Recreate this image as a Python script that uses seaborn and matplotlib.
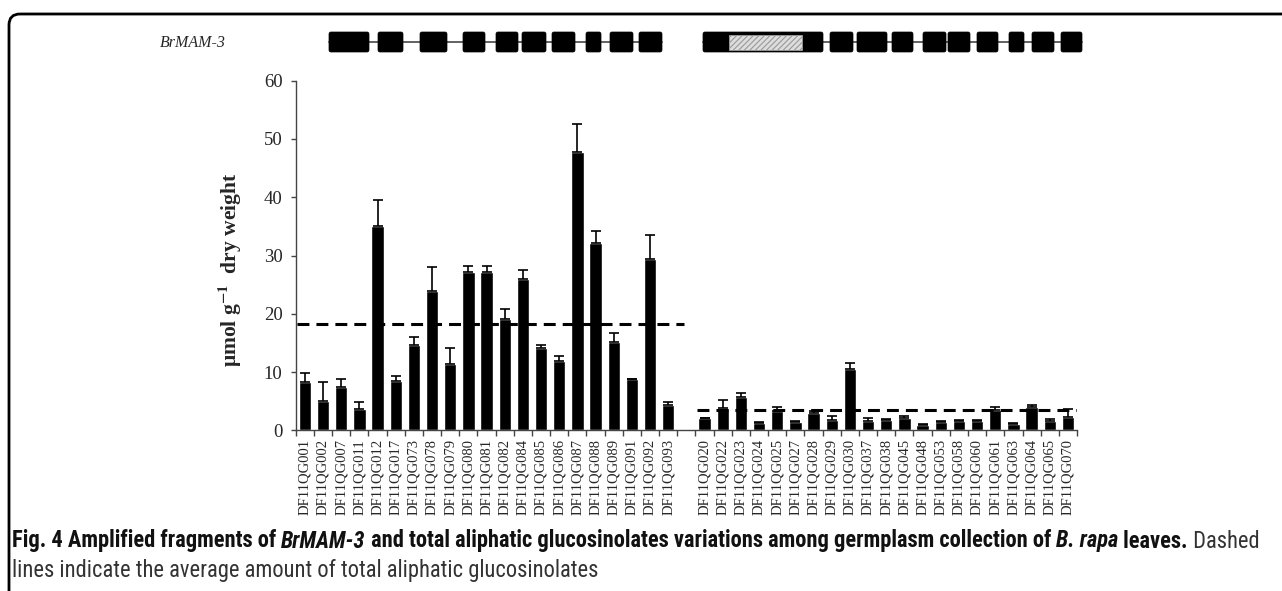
import matplotlib
matplotlib.use("Agg")

import numpy as np
import pandas as pd
import matplotlib.pyplot as plt
import seaborn as sns
from matplotlib import font_manager as fm
from matplotlib.patches import FancyBboxPatch, Rectangle

# ------------------------------------------------------------------
# Data
# ------------------------------------------------------------------

group_a = ["DF11QG001", "DF11QG002", "DF11QG007", "DF11QG011", "DF11QG012",
           "DF11QG017", "DF11QG073", "DF11QG078", "DF11QG079", "DF11QG080",
           "DF11QG081", "DF11QG082", "DF11QG084", "DF11QG085", "DF11QG086",
           "DF11QG087", "DF11QG088", "DF11QG089", "DF11QG091", "DF11QG092",
           "DF11QG093"]
values_a = [8.3, 5.0, 7.45, 3.7, 35.1, 8.5, 14.7, 24.0, 11.4, 27.1, 27.1,
            19.2, 25.9, 14.2, 12.0, 47.8, 32.1, 15.2, 8.9, 29.4, 4.35]
errors_a = [1.5, 3.3, 1.4, 1.2, 4.4, 0.9, 1.4, 4.1, 2.8, 1.1, 1.1,
            1.7, 1.7, 0.5, 0.8, 4.7, 2.1, 1.6, 0.0, 4.1, 0.6]

group_b = ["DF11QG020", "DF11QG022", "DF11QG023", "DF11QG024", "DF11QG025",
           "DF11QG027", "DF11QG028", "DF11QG029", "DF11QG030", "DF11QG037",
           "DF11QG038", "DF11QG045", "DF11QG048", "DF11QG053", "DF11QG058",
           "DF11QG060", "DF11QG061", "DF11QG063", "DF11QG064", "DF11QG065",
           "DF11QG070"]
values_b = [2.06, 3.85, 5.7, 1.3, 3.4, 1.5, 3.0, 1.8, 10.6, 1.7, 1.8,
            2.1, 1.0, 1.4, 1.7, 1.7, 3.55, 1.15, 4.1, 1.6, 2.3]
errors_b = [0.15, 1.35, 0.7, 0.1, 0.65, 0.1, 0.3, 0.6, 0.9, 0.5, 0.2,
            0.35, 0.1, 0.15, 0.1, 0.1, 0.45, 0.15, 0.25, 0.4, 1.3]

# average lines (dashed)
mean_a = 18.2
mean_b = 3.45

# gene schematic of BrMAM-3 (exon spans, diagram units)
exons_a = [(329, 369), (378, 403), (420, 447), (463, 485), (496, 518),
           (522, 546), (552, 575), (586, 601), (610, 633), (639, 662)]
exons_b = [(703, 823), (830, 853), (857, 887), (892, 913), (923, 946),
           (948, 970), (977, 998), (1009, 1024), (1032, 1054), (1061, 1082)]
hatched_fragment = (729, 802)


# ------------------------------------------------------------------
# Helpers
# ------------------------------------------------------------------

def pick_font(candidates):
    for name in candidates:
        try:
            fm.findfont(fm.FontProperties(family=name), fallback_to_default=False)
            return name
        except ValueError:
            pass
    return "DejaVu Sans"


def text_width(ax, renderer, s, **kw):
    """Width in pixels, trailing spaces included (via a sentinel)."""
    t1 = ax.text(0, 0, s + "|", **kw)
    t2 = ax.text(0, 0, "|", **kw)
    w = t1.get_window_extent(renderer).width - t2.get_window_extent(renderer).width
    t1.remove()
    t2.remove()
    return w


# ------------------------------------------------------------------
# Figure
# ------------------------------------------------------------------

sns.set_style("ticks")
plt.rcParams["font.family"] = ["Liberation Serif", "DejaVu Serif"]
plt.rcParams["mathtext.fontset"] = "stix"

fig = plt.figure(figsize=(12.82, 5.91), dpi=100)

# overlay in pixel units: frame, gene schematic, caption
over = fig.add_axes([0, 0, 1, 1], zorder=0)
over.set_xlim(0, 1282)
over.set_ylim(591, 0)
over.axis("off")

frame = FancyBboxPatch(
    (9, 14), 1400, 700,
    boxstyle="round,pad=0,rounding_size=11",
    facecolor="none",
    edgecolor="black",
    linewidth=2.0
)
over.add_patch(frame)

# gene schematic
for exons in (exons_a, exons_b):
    over.plot([exons[0][0], exons[-1][1]], [42, 42], color="#555555", lw=1.3, zorder=1)
    for s, e in exons:
        over.add_patch(FancyBboxPatch(
            (s + 1, 33), e - s - 2, 18,
            boxstyle="round,pad=1,rounding_size=2",
            facecolor="black", edgecolor="black", lw=0.5, zorder=2
        ))

plt.rcParams["hatch.color"] = "#888888"
plt.rcParams["hatch.linewidth"] = 0.8
over.add_patch(Rectangle(
    (hatched_fragment[0], 35), hatched_fragment[1] - hatched_fragment[0], 15,
    facecolor="#dddddd", edgecolor="#999999", hatch="//////", lw=0.6, zorder=3
))

over.text(226, 43, "BrMAM-3", ha="right", va="center",
          fontsize=11.5, style="italic", family=["Liberation Serif", "DejaVu Serif"])

# ------------------------------------------------------------------
# Bar chart
# ------------------------------------------------------------------

order = group_a + [""] + group_b
df = pd.DataFrame({
    "accession": group_a + group_b,
    "value": values_a + values_b,
    "error": errors_a + errors_b,
})

ax = fig.add_axes([0.2307, 0.2716, 0.6094, 0.5919], zorder=1)
ax.set_facecolor("none")

sns.barplot(
    data=df,
    x="accession",
    y="value",
    order=order,
    color="black",
    saturation=1,
    width=0.68,
    errorbar=None,
    ax=ax
)

pos = np.array([order.index(a) for a in df["accession"]])
ax.errorbar(
    pos, df["value"],
    yerr=[np.zeros(len(df)), df["error"]],
    fmt="none", ecolor="black", elinewidth=1.2,
    capsize=3.5, capthick=1.2, zorder=3
)

n_a = len(group_a)
dash = (0, (3.9, 2.3))
ax.hlines(mean_a, -0.45, n_a - 0.15, colors="black", linestyles=dash, lw=2.2, zorder=4)
ax.hlines(mean_b, n_a + 0.6, len(order) - 0.5, colors="black", linestyles=dash, lw=2.2, zorder=4)

ax.set_xlim(-0.5, len(order) - 0.5)
ax.set_ylim(0, 60)
ax.set_yticks(np.arange(0, 61, 10))
ax.set_xticks(np.arange(len(order)))
ax.set_xticklabels(order, rotation=90, fontsize=10.5)
ax.set_xticks(np.arange(-0.5, len(order)), minor=True)
ax.tick_params(axis="x", which="major", length=0, pad=6)
ax.tick_params(axis="x", which="minor", length=4.5, width=1.0, color="#444444", direction="out")
ax.tick_params(axis="y", length=3.5, width=1.0, color="#444444", pad=6, labelsize=13.5)

ax.set_xlabel("")
ax.set_ylabel(r"μmol g$^{\mathbf{-1}}$  dry weight", fontsize=15.5, fontweight="bold")
ax.yaxis.set_label_coords(-0.066, 0.46)

sns.despine(ax=ax)
for side in ("left", "bottom"):
    ax.spines[side].set_color("#444444")
    ax.spines[side].set_linewidth(1.0)

# ------------------------------------------------------------------
# Caption
# ------------------------------------------------------------------

cap_font = pick_font(["Liberation Sans Narrow", "Roboto Condensed", "Open Sans", "Noto Sans"])
renderer = fig.canvas.get_renderer()

line1 = [
    ("Fig. 4 Amplified fragments of ", "bold", "normal", "#111111"),
    ("BrMAM-3", "bold", "italic", "#111111"),
    (" and total aliphatic glucosinolates variations among germplasm collection of ", "bold", "normal", "#111111"),
    ("B. rapa", "bold", "italic", "#111111"),
    (" leaves.", "bold", "normal", "#111111"),
    (" Dashed", "normal", "normal", "#333333"),
]
line2 = "lines indicate the average amount of total aliphatic glucosinolates"

base = 12.0
total = sum(text_width(over, renderer, s, fontsize=base, fontweight=w, style=st, family=cap_font)
            for s, w, st, _ in line1)
cap_size = min(16.5, base * 1258.0 / total)

x = 12
for s, w, st, c in line1:
    over.text(x, 541, s, fontsize=cap_size, fontweight=w, style=st, color=c,
              family=cap_font, ha="left", va="center")
    x += text_width(over, renderer, s, fontsize=cap_size, fontweight=w, style=st, family=cap_font)

over.text(12, 570, line2, fontsize=cap_size, color="#333333",
          family=cap_font, ha="left", va="center")

fig.savefig("out.png", dpi=100)
plt.close(fig)
